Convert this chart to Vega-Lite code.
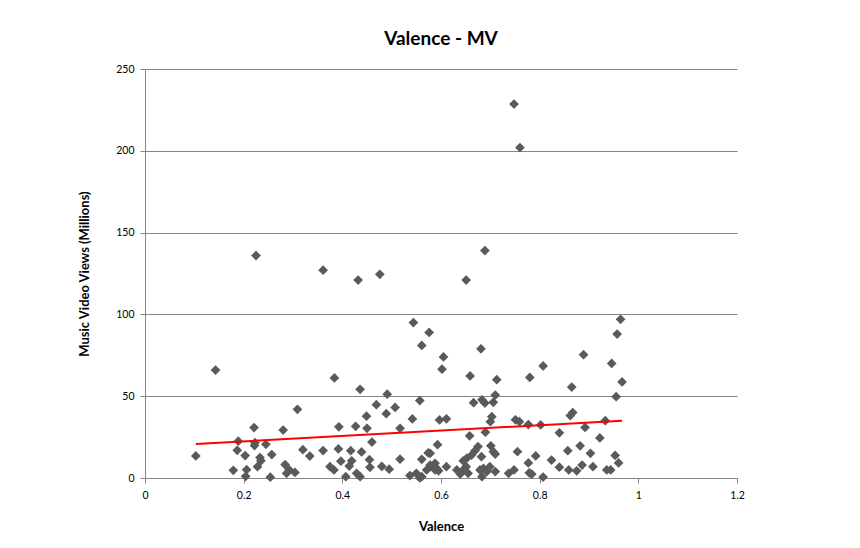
{
  "$schema": "https://vega.github.io/schema/vega-lite/v6.json",
  "width": 592,
  "height": 409,
  "autosize": {"type": "none"},
  "padding": {"left": 145, "top": 69, "right": 123, "bottom": 70},
  "background": "white",
  "title": {
    "text": "Valence - MV",
    "font": "Lato",
    "fontSize": 19,
    "fontWeight": "bold",
    "color": "#000000",
    "anchor": "middle",
    "offset": 15
  },
  "config": {
    "view": {"stroke": null},
    "font": "Lato",
    "axis": {
      "labelFont": "Lato",
      "labelFontSize": 10.5,
      "labelColor": "#000000",
      "titleFont": "Lato",
      "titleFontSize": 13,
      "titleFontWeight": "bold",
      "titleColor": "#000000",
      "domainColor": "#868686",
      "tickColor": "#868686",
      "gridColor": "#868686",
      "gridWidth": 1,
      "tickSize": 5
    }
  },
  "datasets": {
    "songs": [
      {"valence": 0.748, "views": 228.6}, {"valence": 0.760, "views": 202}, {"valence": 0.225, "views": 136},
      {"valence": 0.689, "views": 139}, {"valence": 0.361, "views": 127}, {"valence": 0.476, "views": 124.5},
      {"valence": 0.432, "views": 121}, {"valence": 0.651, "views": 121}, {"valence": 0.143, "views": 66},
      {"valence": 0.544, "views": 95}, {"valence": 0.576, "views": 89}, {"valence": 0.561, "views": 81},
      {"valence": 0.605, "views": 74}, {"valence": 0.602, "views": 66.5}, {"valence": 0.681, "views": 79},
      {"valence": 0.964, "views": 97}, {"valence": 0.957, "views": 88}, {"valence": 0.946, "views": 70},
      {"valence": 0.967, "views": 58.7}, {"valence": 0.955, "views": 49.7}, {"valence": 0.889, "views": 75.4},
      {"valence": 0.807, "views": 68.5}, {"valence": 0.780, "views": 61.5}, {"valence": 0.865, "views": 55.6},
      {"valence": 0.659, "views": 62.4}, {"valence": 0.713, "views": 60.1}, {"valence": 0.710, "views": 50.7},
      {"valence": 0.666, "views": 46}, {"valence": 0.683, "views": 47.8}, {"valence": 0.689, "views": 45.8},
      {"valence": 0.706, "views": 46.3}, {"valence": 0.703, "views": 37.5}, {"valence": 0.700, "views": 34.4},
      {"valence": 0.597, "views": 35.5}, {"valence": 0.611, "views": 36.2}, {"valence": 0.751, "views": 35.6},
      {"valence": 0.759, "views": 34.4}, {"valence": 0.777, "views": 32.7}, {"valence": 0.802, "views": 32.4},
      {"valence": 0.862, "views": 38.2}, {"valence": 0.867, "views": 40}, {"valence": 0.892, "views": 30.9},
      {"valence": 0.933, "views": 35}, {"valence": 0.922, "views": 24.5}, {"valence": 0.840, "views": 27.6},
      {"valence": 0.658, "views": 25.8}, {"valence": 0.690, "views": 28}, {"valence": 0.593, "views": 20.4},
      {"valence": 0.675, "views": 19.2}, {"valence": 0.669, "views": 16.7}, {"valence": 0.701, "views": 19.7},
      {"valence": 0.706, "views": 16.1}, {"valence": 0.682, "views": 13}, {"valence": 0.710, "views": 14.6},
      {"valence": 0.755, "views": 16.1}, {"valence": 0.792, "views": 13.5}, {"valence": 0.777, "views": 9.2},
      {"valence": 0.857, "views": 16.7}, {"valence": 0.882, "views": 19.7}, {"valence": 0.903, "views": 15.1},
      {"valence": 0.953, "views": 13.8}, {"valence": 0.960, "views": 9.2}, {"valence": 0.944, "views": 4.9},
      {"valence": 0.824, "views": 11}, {"valence": 0.840, "views": 6.6}, {"valence": 0.859, "views": 4.9},
      {"valence": 0.875, "views": 4.4}, {"valence": 0.886, "views": 7.9}, {"valence": 0.908, "views": 6.9},
      {"valence": 0.936, "views": 4.9}, {"valence": 0.807, "views": 0.6}, {"valence": 0.737, "views": 2.9},
      {"valence": 0.748, "views": 4.9}, {"valence": 0.779, "views": 3.2}, {"valence": 0.784, "views": 2.4},
      {"valence": 0.699, "views": 6.9}, {"valence": 0.710, "views": 3.9}, {"valence": 0.683, "views": 0.8},
      {"valence": 0.679, "views": 4.9}, {"valence": 0.645, "views": 10.5}, {"valence": 0.645, "views": 4.9},
      {"valence": 0.655, "views": 2.9}, {"valence": 0.652, "views": 12}, {"valence": 0.662, "views": 14},
      {"valence": 0.686, "views": 5.9}, {"valence": 0.693, "views": 3.9}, {"valence": 0.578, "views": 15.1},
      {"valence": 0.578, "views": 7.9}, {"valence": 0.591, "views": 5.9}, {"valence": 0.611, "views": 6.9},
      {"valence": 0.588, "views": 4.9}, {"valence": 0.632, "views": 4.9}, {"valence": 0.639, "views": 2.4},
      {"valence": 0.651, "views": 6.9}, {"valence": 0.384, "views": 61.2}, {"valence": 0.436, "views": 54.2},
      {"valence": 0.491, "views": 51.2}, {"valence": 0.469, "views": 44.8}, {"valence": 0.489, "views": 39.3},
      {"valence": 0.507, "views": 43.1}, {"valence": 0.449, "views": 37.8}, {"valence": 0.557, "views": 47.3},
      {"valence": 0.542, "views": 36.1}, {"valence": 0.309, "views": 42}, {"valence": 0.221, "views": 30.8},
      {"valence": 0.280, "views": 29.3}, {"valence": 0.393, "views": 31.3}, {"valence": 0.427, "views": 31.6},
      {"valence": 0.450, "views": 30.4}, {"valence": 0.517, "views": 30.4}, {"valence": 0.460, "views": 22},
      {"valence": 0.189, "views": 22.5}, {"valence": 0.223, "views": 21.6}, {"valence": 0.245, "views": 20.6},
      {"valence": 0.187, "views": 16.9}, {"valence": 0.203, "views": 13.7}, {"valence": 0.222, "views": 19.8},
      {"valence": 0.103, "views": 13.5}, {"valence": 0.257, "views": 14.3}, {"valence": 0.233, "views": 12.5},
      {"valence": 0.320, "views": 17.3}, {"valence": 0.334, "views": 13.4}, {"valence": 0.361, "views": 16.8},
      {"valence": 0.392, "views": 17.8}, {"valence": 0.417, "views": 16.7}, {"valence": 0.439, "views": 15.9},
      {"valence": 0.517, "views": 11.5}, {"valence": 0.561, "views": 11.4}, {"valence": 0.574, "views": 15.3},
      {"valence": 0.179, "views": 4.7}, {"valence": 0.206, "views": 5.1}, {"valence": 0.228, "views": 6.9},
      {"valence": 0.235, "views": 10.5}, {"valence": 0.204, "views": 1}, {"valence": 0.254, "views": 0.5},
      {"valence": 0.284, "views": 8.2}, {"valence": 0.292, "views": 5.1}, {"valence": 0.304, "views": 3.4},
      {"valence": 0.287, "views": 2.9}, {"valence": 0.375, "views": 6.9}, {"valence": 0.383, "views": 4.9},
      {"valence": 0.397, "views": 10.3}, {"valence": 0.419, "views": 10.5}, {"valence": 0.414, "views": 7.3},
      {"valence": 0.429, "views": 2.9}, {"valence": 0.407, "views": 0.8}, {"valence": 0.436, "views": 0.8},
      {"valence": 0.455, "views": 11.2}, {"valence": 0.456, "views": 6.5}, {"valence": 0.480, "views": 7.1},
      {"valence": 0.495, "views": 5.4}, {"valence": 0.537, "views": 1.5}, {"valence": 0.550, "views": 2.9},
      {"valence": 0.561, "views": 0.8}, {"valence": 0.571, "views": 4.9}, {"valence": 0.584, "views": 6.4},
      {"valence": 0.595, "views": 4.4}, {"valence": 0.557, "views": 0}, {"valence": 0.588, "views": 9}
    ],
    "trend": [
      {"valence": 0.103, "views": 20.8},
      {"valence": 0.967, "views": 35.0}
    ]
  },
  "layer": [
    {
      "data": {"name": "songs"},
      "mark": {"type": "point", "shape": "diamond", "filled": true, "size": 95, "color": "#5a5a5a", "opacity": 1},
      "encoding": {
        "x": {
          "field": "valence",
          "type": "quantitative",
          "title": "Valence",
          "scale": {"domain": [0, 1.2], "nice": false, "zero": true},
          "axis": {
            "values": [0, 0.2, 0.4, 0.6, 0.8, 1, 1.2],
            "format": "~g",
            "grid": false,
            "labelPadding": 7,
            "titlePadding": 20,
            "labelFlush": false
          }
        },
        "y": {
          "field": "views",
          "type": "quantitative",
          "title": "Music Video Views (Millions)",
          "scale": {"domain": [0, 250], "nice": false},
          "axis": {
            "values": [0, 50, 100, 150, 200, 250],
            "grid": true,
            "labelPadding": 6,
            "titlePadding": 24
          }
        }
      }
    },
    {
      "data": {"name": "trend"},
      "mark": {"type": "line", "color": "#ff0000", "strokeWidth": 2},
      "encoding": {
        "x": {"field": "valence", "type": "quantitative"},
        "y": {"field": "views", "type": "quantitative"}
      }
    }
  ]
}
